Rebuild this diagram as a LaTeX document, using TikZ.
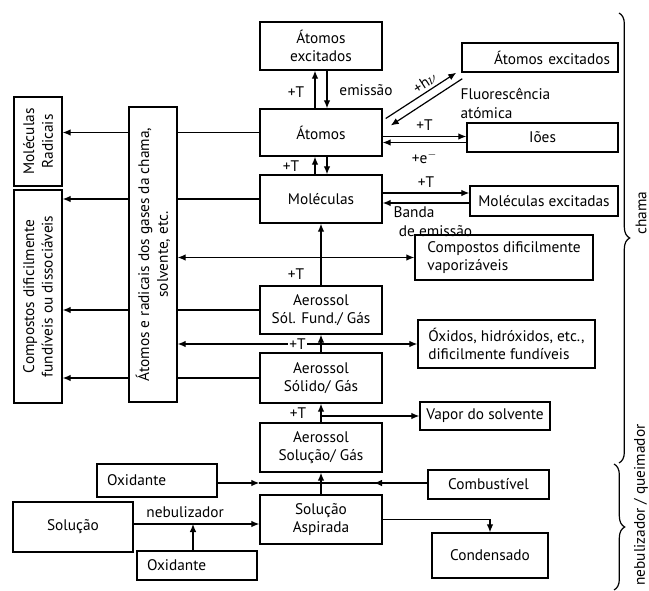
\documentclass[tikz,border=0pt]{standalone}
\usepackage{fontspec}
\setmainfont{PT Sans}
\usetikzlibrary{calc,arrows.meta,decorations.pathreplacing}

\tikzset{
  box/.style={draw, line width=1.1pt, align=center, font=\fontsize{11.5}{14}\selectfont},
  sz/.style 2 args={minimum width=#1*0.75pt, minimum height=#2*0.75pt},
  lbl/.style={font=\fontsize{11.5}{14}\selectfont, inner sep=1pt},
  con/.style={line width=0.9pt},
  brc/.style={line width=0.9pt, decorate, decoration={brace, amplitude=8pt}},
}

\begin{document}
\begin{tikzpicture}[x=0.75pt, y=-0.75pt, >={Latex[length=6pt,width=5pt]}]
\useasboundingbox (0,0) rectangle (649,591);

% coluna central
\node[box, sz={122}{48}] (aexc) at (321,46) {Átomos\\excitados};
\node[box, sz={122}{47}] (atom) at (321,132.5) {Átomos};
\node[box, sz={122}{48}] (mol) at (321,199) {Moléculas};
\node[box, sz={122}{48}] (afund) at (321,310) {Aerossol\\Sól. Fund./ Gás};
\node[box, sz={122}{50}] (asol) at (321,378) {Aerossol\\Sólido/ Gás};
\node[box, sz={122}{49}] (asolu) at (321,447.5) {Aerossol\\Solução/ Gás};
\node[box, sz={122}{49}] (asp) at (321,519.5) {Solução\\Aspirada};

% caixas verticais
\node[box, sz={89}{48}, rotate=90] (molrad) at (38,141.5) {Moléculas\\Radicais};
\node[box, sz={213}{48}, rotate=90] (compfund) at (38,296.5) {Compostos dificilmente\\fundíveis ou dissociáveis};
\node[box, sz={295}{48}, rotate=90] (radic) at (153,254.5) {Átomos e radicais dos gases da chama,\\solvente, etc.};

% lado direito
\node[box, sz={156}{29}, text width=105pt, align=right] (aexc2) at (540,57.5) {Átomos excitados};
\node[box, sz={151}{29}] (ions) at (542.5,137.5) {Iões};
\node[box, sz={148}{30}] (molexc) at (544,201) {Moléculas excitadas};
\node[box, sz={178}{45}, align=left] (compvap) at (504,257.5) {Compostos dificilmente\\vaporizáveis};
\node[box, sz={177}{48}, align=left] (oxid) at (506.5,344) {Óxidos, hidróxidos, etc.,\\dificilmente fundíveis};
\node[box, sz={130}{28}] (vapor) at (485,416) {Vapor do solvente};
\node[box, sz={121}{29}] (comb) at (488.5,484.5) {Combustível};
\node[box, sz={116}{45}] (cond) at (490,555.5) {Condensado};

% embaixo
\node[box, sz={120}{33}, text width=75pt, align=left] (oxa) at (157,480.5) {Oxidante};
\node[box, sz={120}{50}] (sol) at (73,527) {Solução};
\node[box, sz={120}{29}, text width=75pt, align=left] (oxb) at (197,565.5) {Oxidante};

\coordinate (mix) at (321,483);
\coordinate (neb) at (193,524);

% setas centrais
\draw[con,->] ($(atom.north)+(-6,0)$) -- ($(aexc.south)+(-6,0)$);
\draw[con,->] ($(aexc.south)+(6,0)$) -- ($(atom.north)+(6,0)$);
\draw[con,->] ($(mol.north)+(-6,0)$) -- ($(atom.south)+(-6,0)$);
\draw[con,->] ($(atom.south)+(6,0)$) -- ($(mol.north)+(6,0)$);
\draw[con,->] (afund) -- (mol);
\draw[con,->] (asol) -- (afund);
\draw[con,->] (asolu) -- (asol);
\draw[con,->] (asp) -- (asolu);
\node[lbl] (t1) at (296,92) {+T};
\node[lbl] (em) at (366,90) {emissão};
\node[lbl] (t2) at (291,166) {+T};
\node[lbl] (t3) at (296,274) {+T};
\node[lbl] (t4) at (298,413) {+T};

% para a esquerda (caixas giradas: north = esquerda, south = direita)
\draw[con] (atom.west) -- (radic.south |- atom.west);
\draw[con,->] (radic.north |- atom.west) -- (molrad.south |- atom.west);
\draw[con] (mol.west) -- (radic.south |- mol.west);
\draw[con,->] (radic.north |- mol.west) -- (compfund.south |- mol.west);
\draw[con] (afund.west) -- (radic.south |- afund.west);
\draw[con,->] (radic.north |- afund.west) -- (compfund.south |- afund.west);
\draw[con] (asol.west) -- (radic.south |- asol.west);
\draw[con,->] (radic.north |- asol.west) -- (compfund.south |- asol.west);

% para a direita
\draw[con,<->] (radic.south |- compvap.west) -- (compvap.west);
\draw[con,<->] (radic.south |- oxid.west) -- node[lbl, fill=white, pos=0.5] (t5) {+T} (oxid.west);
\draw[con,->] (asol.south |- vapor.west) -- (vapor.west);

\draw[con,->] ($(atom.east)+(3,-14)$) -- node[lbl, above=1pt, sloped, pos=0.62] (hv) {+h$\nu$} ($(aexc2.south west)+(-5,0)$);
\draw[con,->] ($(aexc2.south west)+(1,6)$) -- ($(atom.east)+(8,-7)$);
\node[lbl, align=left, anchor=north west] (fluor) at (459,87) {Fluorescência\\atómica};

\draw[con,->] ($(atom.east)+(0,4)$) -- node[lbl, above=3pt] (t6) {+T} ($(ions.west)+(0,-1)$);
\draw[con,->] ($(ions.west)+(0,5)$) -- node[lbl, below=5pt] (el) {+e$^-$} ($(atom.east)+(0,10)$);

\draw[con,->] ($(mol.east)+(0,-6)$) -- node[lbl, above=3pt] (t7) {+T} ($(molexc.west)+(0,-8)$);
\draw[con,->] ($(molexc.west)+(0,2)$) -- ($(mol.east)+(0,4)$);
\node[lbl, align=left, anchor=north west] (banda) at (392,205) {Banda\\\hspace{4pt}de emissão};

% nebulizador
\draw[con,->] (oxa.east |- mix) -- (asp.west |- mix);
\draw[con] (asp.west |- mix) -- (mix);
\draw[con] (comb.west |- mix) -- (mix);
\draw[con,->] (comb.west |- mix) -- ($(comb.west |- mix)!0.5!(mix)$);
\draw[con,->] (sol.east |- neb) -- node[lbl, above=3pt, pos=0.41] (nebl) {nebulizador} (asp.west |- neb);
\draw[con,->] (oxb.north -| neb) -- (neb);
\draw[con,->] (asp.east) -| (cond.north);

% chaves
\draw[brc] (619,13) -- (619,463);
\draw[brc] (614,464) -- (614,590);
\node[lbl, rotate=90] (chama) at (641,213) {chama};
\node[lbl, rotate=90] (nebq) at (641,505) {nebulizador / queimador};
\end{tikzpicture}
\end{document}
